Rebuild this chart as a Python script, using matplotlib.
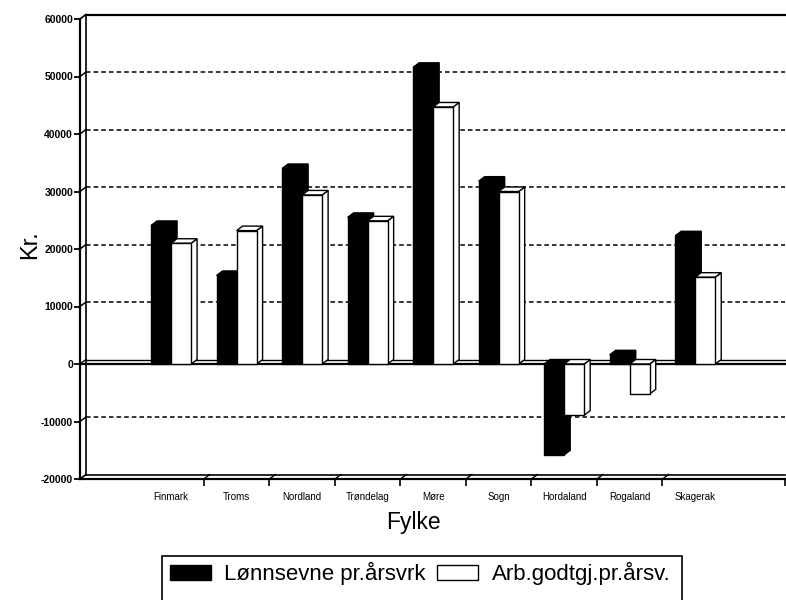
import matplotlib
matplotlib.use('Agg')
import matplotlib.pyplot as plt
from matplotlib.patches import Polygon, Rectangle, Patch

plt.rcParams['font.family'] = ['Liberation Sans', 'DejaVu Sans']

categories = ['Finmark', 'Troms', 'Nordland', 'Trøndelag', 'Møre', 'Sogn',
              'Hordaland', 'Rogaland', 'Skagerak']
lonnsevne = [24100, 15400, 34000, 25500, 51600, 31800, -15800, 1600, 22300]
arbgodtgj = [21000, 23200, 29400, 24900, 44700, 30000, -8900, -5200, 15100]
series_labels = ['Lønnsevne pr.årsvrk', 'Arb.godtgj.pr.årsv.']
yticks = [-20000, -10000, 0, 10000, 20000, 30000, 40000, 50000, 60000]

W, H = 786, 600
fig = plt.figure(figsize=(W / 100, H / 100), dpi=100)
ax_l, ax_r, ax_t, ax_b = 80, 785, 19, 479
ax = fig.add_axes([ax_l / W, 1 - ax_b / H, (ax_r - ax_l) / W, (ax_b - ax_t) / H])
XL, XR = -1.39, 9.37
YB, YT = -20000, 60000
ax.set_xlim(XL, XR)
ax.set_ylim(YB, YT)

px_x = (XR - XL) / (ax_r - ax_l)
px_y = (YT - YB) / (ax_b - ax_t)
ddx = 6 * px_x
ddy = 4.5 * px_y
bw = 20 * px_x

for s in ['top', 'right']:
    ax.spines[s].set_visible(False)
ax.spines['left'].set_linewidth(1.6)
ax.spines['bottom'].set_linewidth(1.6)
ax.spines['left'].set_zorder(6)

ax.set_yticks(yticks)
ax.set_yticklabels([str(v) for v in yticks], fontsize=7.5, fontweight='bold')
ax.tick_params(axis='y', length=4, width=1.3, pad=1)

bounds = [i + 0.5 for i in range(len(categories) - 1)] + [XR]
ax.set_xticks(bounds)
ax.set_xticklabels([''] * len(bounds))
ax.tick_params(axis='x', which='major', length=5, width=1.2)
ax.set_xticks(range(len(categories)), minor=True)
ax.set_xticklabels(categories, minor=True, fontsize=7)
ax.tick_params(axis='x', which='minor', length=0, pad=9)

lk = dict(color='black', clip_on=False)
# back wall, floor, top
ax.plot([XL + ddx, XL + ddx], [YB + ddy, YT + ddy], lw=1.2, zorder=1, **lk)
ax.plot([XL + ddx, XR], [YT + ddy, YT + ddy], lw=1.6, zorder=1, **lk)
ax.plot([XL, XL + ddx], [YT, YT + ddy], lw=1.2, zorder=1, **lk)
ax.plot([XL + ddx, XR], [YB + ddy, YB + ddy], lw=1.2, zorder=1, **lk)
ax.plot([XL, XL + ddx], [YB, YB + ddy], lw=1.2, zorder=1, **lk)
for b in bounds[:-1]:
    ax.plot([b, b + ddx], [YB, YB + ddy], lw=1.0, zorder=1, **lk)
# gridlines on back wall
for yv in [-10000, 10000, 20000, 30000, 40000, 50000]:
    ax.plot([XL + ddx, XR], [yv + ddy, yv + ddy], lw=1.1, ls=(0, (3, 2)), zorder=1, **lk)
    ax.plot([XL, XL + ddx], [yv, yv + ddy], lw=1.1, zorder=1, **lk)
# zero plane
ax.plot([XL, XR], [0, 0], lw=1.6, zorder=2, **lk)
ax.plot([XL + ddx, XR], [ddy, ddy], lw=1.0, zorder=2, **lk)
ax.plot([XL, XL + ddx], [0, ddy], lw=1.0, zorder=2, **lk)


def bar3d(x0, v, fc, z):
    x1 = x0 + bw
    top = max(v, 0)
    bot = min(v, 0)
    front = Rectangle((x0, bot), bw, top - bot, facecolor=fc, edgecolor='black',
                      lw=1.0, zorder=z)
    topf = Polygon([(x0, top), (x1, top), (x1 + ddx, top + ddy), (x0 + ddx, top + ddy)],
                   closed=True, facecolor=fc, edgecolor='black', lw=1.0, zorder=z)
    side = Polygon([(x1, bot), (x1 + ddx, bot + ddy), (x1 + ddx, top + ddy), (x1, top)],
                   closed=True, facecolor=fc, edgecolor='black', lw=1.0, zorder=z)
    for p in (side, topf, front):
        ax.add_patch(p)


for i in range(len(categories)):
    bar3d(i - bw, lonnsevne[i], 'black', 3 + i * 0.01)
    bar3d(i, arbgodtgj[i], 'white', 4 + i * 0.01)

fig.text(30 / W, 1 - 245 / H, 'Kr.', rotation=90, fontsize=17, ha='center', va='center')
fig.text(413 / W, 1 - 522 / H, 'Fylke', fontsize=16.5, ha='center', va='center')

# legend box (cut at the bottom of the picture)
fig.patches.append(Rectangle((162 / W, -0.05), (682 - 162) / W, (1 - 556 / H) + 0.05,
                             transform=fig.transFigure, fill=False, lw=1.2,
                             edgecolor='black'))
handles = [Patch(facecolor='black', edgecolor='black'),
           Patch(facecolor='white', edgecolor='black')]
fig.legend(handles, series_labels, loc='upper left',
           bbox_to_anchor=(170 / W, 1 - 562 / H), ncol=2, frameon=False,
           fontsize=16, handlelength=1.85, handleheight=0.65, handletextpad=0.6,
           columnspacing=0.5, borderpad=0, borderaxespad=0)

fig.savefig('out.png', dpi=100)
